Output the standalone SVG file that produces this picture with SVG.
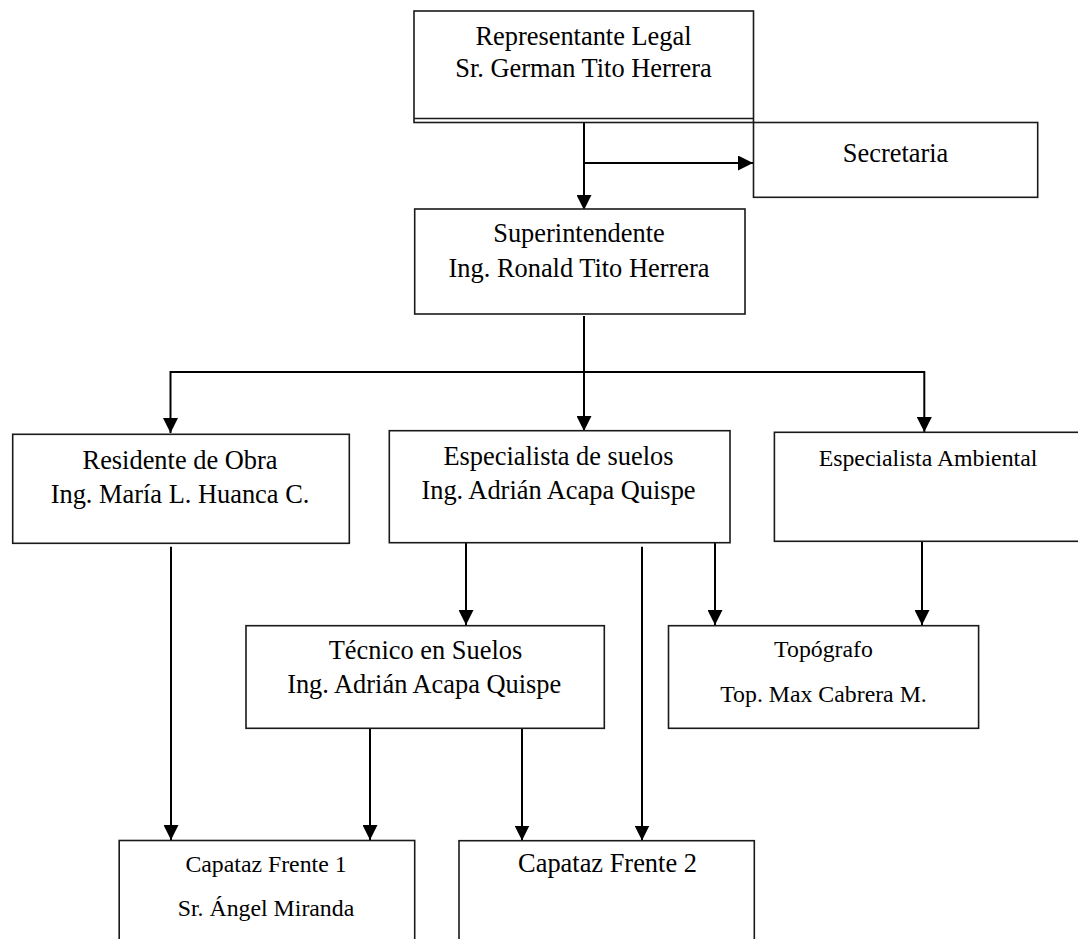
<svg xmlns="http://www.w3.org/2000/svg" width="1078" height="939" viewBox="0 0 1078 939">
<style>
.box{fill:#fff;stroke:#1a1a1a;stroke-width:1.6}
.ln{fill:none;stroke:#000;stroke-width:2}
.t{font-family:"Liberation Serif","Times New Roman",serif;font-size:26.4px;fill:#000;text-anchor:middle}
.s{font-size:23.8px}
</style>
<defs>
<marker id="ah" viewBox="0 0 15 15" refX="15" refY="7.5" markerWidth="15" markerHeight="15" markerUnits="userSpaceOnUse" orient="auto">
<path d="M0,0 L15,7.5 L0,15 Z" fill="#000"/>
</marker>
</defs>
<rect width="1078" height="939" fill="#fff"/>
<g id="connectors">
<path class="ln" d="M584,110 V210" marker-end="url(#ah)"/>
<path class="ln" d="M584,163 H753" marker-end="url(#ah)"/>
<path class="ln" d="M584,316 V431" marker-end="url(#ah)"/>
<path class="ln" d="M170.5,372 H924.3"/>
<path class="ln" d="M170.5,371 V433" marker-end="url(#ah)"/>
<path class="ln" d="M924.3,371 V432" marker-end="url(#ah)"/>
<path class="ln" d="M171,546.7 V840" marker-end="url(#ah)"/>
<path class="ln" d="M466,533 V625" marker-end="url(#ah)"/>
<path class="ln" d="M715,537 V625" marker-end="url(#ah)"/>
<path class="ln" d="M642,546.7 V840.5" marker-end="url(#ah)"/>
<path class="ln" d="M922,532.7 V625" marker-end="url(#ah)"/>
<path class="ln" d="M370,721.7 V840" marker-end="url(#ah)"/>
<path class="ln" d="M522,723.3 V840.5" marker-end="url(#ah)"/>
</g>
<g id="representante">
<rect class="box" x="414" y="11" width="339.5" height="111.5"/>
<path class="box" d="M414,118.5 H753.5"/>
<text class="t" x="583.5" y="45">Representante Legal</text>
<text class="t" x="583.5" y="77.3">Sr. German Tito Herrera</text>
</g>
<g id="secretaria">
<rect class="box" x="753.5" y="122.5" width="284.2" height="74.8"/>
<text class="t" x="895.6" y="161.7">Secretaria</text>
</g>
<g id="superintendente">
<rect class="box" x="414.7" y="209" width="330.3" height="105"/>
<text class="t" x="579" y="242.3">Superintendente</text>
<text class="t" x="579" y="276.7">Ing. Ronald Tito Herrera</text>
</g>
<g id="residente">
<rect class="box" x="12.7" y="434.3" width="336.6" height="109"/>
<text class="t" x="180" y="469">Residente de Obra</text>
<text class="t" x="180" y="503.3">Ing. María L. Huanca C.</text>
</g>
<g id="especialista-suelos">
<rect class="box" x="389.3" y="430.7" width="340.7" height="112"/>
<text class="t" x="558.5" y="465">Especialista de suelos</text>
<text class="t" x="558.5" y="499">Ing. Adrián Acapa Quispe</text>
</g>
<g id="especialista-ambiental">
<rect class="box" x="774.4" y="432.3" width="320" height="109"/>
<text class="t s" x="928" y="466">Especialista Ambiental</text>
</g>
<g id="tecnico">
<rect class="box" x="246" y="625.7" width="358.3" height="102.6"/>
<text class="t" x="425.5" y="659.3">Técnico en Suelos</text>
<text class="t" x="424.2" y="692.7">Ing. Adrián Acapa Quispe</text>
</g>
<g id="topografo">
<rect class="box" x="668.5" y="625.7" width="310.1" height="102.6"/>
<text class="t s" x="823.5" y="656.7">Topógrafo</text>
<text class="t s" x="823.5" y="702.3">Top. Max Cabrera M.</text>
</g>
<g id="capataz1">
<rect class="box" x="119.2" y="840.5" width="295.5" height="120"/>
<text class="t s" x="266" y="872.3">Capataz Frente 1</text>
<text class="t s" x="266" y="916.3">Sr. Ángel Miranda</text>
</g>
<g id="capataz2">
<rect class="box" x="459" y="840.7" width="295.3" height="120"/>
<text class="t" x="607.5" y="872.3">Capataz Frente 2</text>
</g>
</svg>
